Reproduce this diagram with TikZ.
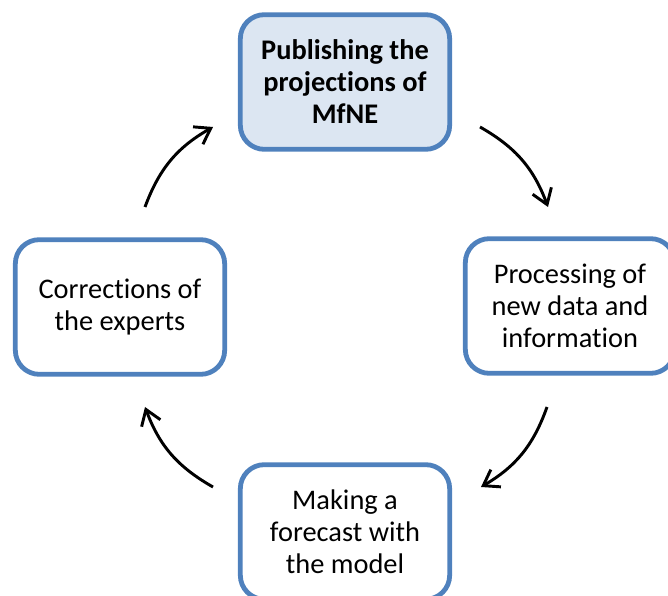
\documentclass[tikz,border=0pt]{standalone}
\usepackage{fontspec}
\setmainfont[Ligatures=NoCommon]{Carlito}
\usetikzlibrary{arrows.meta}
\definecolor{boxblue}{HTML}{4F81BD}
\definecolor{boxfill}{HTML}{DCE6F2}
\tikzset{
  stage/.style={draw=boxblue,line width=3.6pt,rounded corners=18pt,fill=white,
    minimum width=157pt,minimum height=101pt,align=center,
    font=\fontsize{21.3}{24}\selectfont},
  pubstage/.style={stage,fill=boxfill,font=\fontsize{21.3}{24}\selectfont\bfseries},
  cyc/.style={line width=2.2pt,-{Straight Barb[length=11pt,width=15pt]},bend left=20}
}
\begin{document}
\begin{tikzpicture}[x=0.75pt,y=0.75pt]
        \useasboundingbox (0,0) rectangle (668,596);
        \node[pubstage] (pub) at (345,514) {Publishing the\\projections of\\MfNE};
        \node[stage] (proc) at (570,290) {Processing of\\new data and\\information};
        \node[stage] (fore) at (345,64) {Making a\\forecast with\\the model};
        \node[stage] (corr) at (120,289) {Corrections of\\the experts};
        % arrow ends
        \coordinate (a1s) at (480,469);
        \coordinate (a1e) at (548,389);
        \coordinate (a2s) at (547,189);
        \coordinate (a2e) at (481,109);
        \coordinate (a3s) at (213,109);
        \coordinate (a3e) at (145,189);
        \coordinate (a4s) at (145,389);
        \coordinate (a4e) at (213,469);
        \draw[cyc] (a1s) to (a1e);
        \draw[cyc] (a2s) to (a2e);
        \draw[cyc] (a3s) to (a3e);
        \draw[cyc] (a4s) to (a4e);
    \end{tikzpicture}
\end{document}
